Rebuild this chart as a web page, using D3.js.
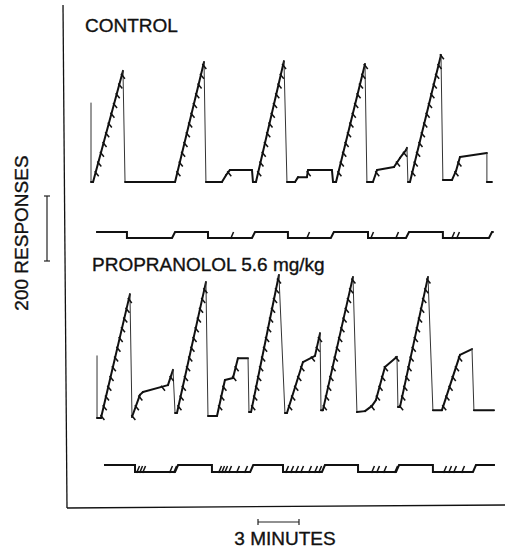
<!DOCTYPE html>
<html>
<head>
<meta charset="utf-8">
<script src="https://cdn.jsdelivr.net/npm/d3@7"></script>
<style>
  body { margin: 0; background: #fff; }
  svg text { font-family: "Liberation Sans", Arial, sans-serif; fill: #111; stroke: #111; stroke-width: 0.35; }
</style>
</head>
<body>
<svg id="chart" width="505" height="558"></svg>
<script>
(function () {
  'use strict';

  // cumulative records, [minutes, responses since last pen reset]
  var controlRecord = [
    [1.83, 243], [1.83, 0], [1.98, 0], [4.17, 342], [4.32, 0], [7.98, 0],
    [10.10, 369], [10.24, 0], [11.41, 0], [11.71, 21], [12.0, 37], [13.61, 37],
    [13.68, 0], [13.90, 0], [15.95, 372], [16.17, 0], [16.76, 0], [16.98, 15],
    [17.63, 15], [17.71, 37], [19.46, 37], [19.54, 0], [19.76, 0], [21.88, 363],
    [22.02, 0], [22.46, 0], [22.76, 37], [24.0, 46], [24.44, 74], [24.88, 98],
    [24.95, 105], [25.02, 0], [25.17, 0], [27.44, 391], [27.58, 6], [28.24, 6],
    [28.54, 34], [28.83, 77], [30.80, 89], [30.80, 0], [31.17, 0]
  ];
  var propranololRecord = [
    [2.27, 185], [2.27, -6], [2.56, -6], [4.68, 375], [4.83, -3], [5.41, 65],
    [5.63, 74], [7.46, 95], [7.83, 142], [7.98, 9], [8.12, 9], [10.24, 412],
    [10.39, 0], [11.05, 0], [11.63, 111], [12.22, 117], [12.58, 178], [13.32, 178],
    [13.39, 12], [13.54, 12], [15.58, 434], [16.02, 9], [16.17, 9], [17.34, 166],
    [18.22, 185], [18.59, 255], [18.66, 18], [18.80, 18], [21.0, 428], [21.29, 12],
    [21.88, 15], [22.39, 31], [22.68, 49], [23.34, 151], [24.22, 182], [24.29, 28],
    [24.44, 28], [26.49, 428], [26.85, 18], [27.51, 18], [28.83, 188], [29.71, 206],
    [29.85, 18], [31.32, 18]
  ];

  // event pen: periods the pen is up, [start, end] in minutes
  var controlEventUp = [[2.2, 4.46], [7.98, 10.39], [13.83, 16.24], [19.6, 22.1], [25.1, 27.58], [31.17, 31.3]];
  var propranololEventUp = [[2.78, 5.05], [8.2, 10.68], [13.7, 15.88], [18.95, 21.37], [24.37, 26.85], [30.0, 31.39]];
  var controlBlips = [12.15, 17.71, 22.39, 24.22, 28.32, 28.68];
  var propranololBlips = [
    5.27, 5.49, 5.71, 7.68, 7.98, 11.27, 11.49, 11.71, 12.0, 12.58, 13.17,
    16.17, 16.54, 16.9, 17.27, 17.85, 18.29, 18.59, 22.46, 22.83, 23.34, 24.15,
    27.73, 28.1, 28.46, 29.05
  ];

  var panelLabels = ['CONTROL', 'PROPRANOLOL 5.6 mg/kg'];
  var yTitle = '200 RESPONSES';
  var xTitle = '3 MINUTES';
  var responseBar = 200;   // responses
  var timeBar = 3;         // minutes
  var pipEvery = 30;       // responses per reinforcement

  var svg = d3.select('#chart');

  var x = d3.scaleLinear().domain([0, 32]).range([66, 503.3]);

  var panels = [
    {
      label: panelLabels[0], labelX: 85, labelY: 32,
      record: controlRecord,
      y: d3.scaleLinear().domain([0, 400]).range([182, 52]),
      eventUp: controlEventUp, blips: controlBlips,
      eventHi: 232, eventLo: 238
    },
    {
      label: panelLabels[1], labelX: 92, labelY: 271,
      record: propranololRecord,
      y: d3.scaleLinear().domain([0, 400]).range([416, 286]),
      eventUp: propranololEventUp, blips: propranololBlips,
      eventHi: 465, eventLo: 472
    }
  ];

  // frame
  svg.append('line')
      .attr('x1', 63).attr('y1', 5).attr('x2', 67).attr('y2', 508)
      .attr('stroke', '#111').attr('stroke-width', 1.3);
  svg.append('line')
      .attr('x1', 67).attr('y1', 508).attr('x2', 505).attr('y2', 505)
      .attr('stroke', '#111').attr('stroke-width', 1.3);

  panels.forEach(drawPanel);

  function drawPanel(p) {
    var g = svg.append('g');

    g.append('text')
        .attr('x', p.labelX)
        .attr('y', p.labelY)
        .attr('font-size', 19)
        .text(p.label);

    var segs = d3.pairs(p.record).map(function (pair) {
      return {a: pair[0], b: pair[1], reset: pair[1][1] - pair[0][1] < -40};
    });

    g.append('g').selectAll('line')
      .data(segs)
      .enter().append('line')
        .attr('x1', function (d) { return x(d.a[0]); })
        .attr('y1', function (d) { return p.y(d.a[1]); })
        .attr('x2', function (d) { return x(d.b[0]); })
        .attr('y2', function (d) { return p.y(d.b[1]); })
        .attr('stroke', function (d) { return d.reset ? '#333' : '#111'; })
        .attr('stroke-width', function (d) { return d.reset ? 1 : 2; })
        .attr('stroke-linecap', 'round');

    // reinforcement pips along rising parts
    var pips = [];
    segs.forEach(function (s) {
      if (s.b[1] <= s.a[1]) return;
      var k0 = Math.floor(s.a[1] / pipEvery) + 1;
      var k1 = Math.floor(s.b[1] / pipEvery);
      for (var k = k0; k <= k1; k++) {
        var t = (k * pipEvery - s.a[1]) / (s.b[1] - s.a[1]);
        pips.push([s.a[0] + t * (s.b[0] - s.a[0]), k * pipEvery]);
      }
    });

    g.append('g').selectAll('path')
      .data(pips)
      .enter().append('path')
        .attr('d', function (d) {
          return 'M' + (x(d[0]) - 1) + ',' + (p.y(d[1]) - 1) + 'l4,5';
        })
        .attr('fill', 'none')
        .attr('stroke', '#111')
        .attr('stroke-width', 1.5);

    // event pen
    var path = d3.path();
    p.eventUp.forEach(function (u, i) {
      if (i === 0) {
        path.moveTo(x(u[0]), p.eventHi);
      } else {
        path.lineTo(x(u[0]) - 3, p.eventLo);
        path.lineTo(x(u[0]), p.eventHi);
      }
      path.lineTo(x(u[1]), p.eventHi);
      if (i < p.eventUp.length - 1) path.lineTo(x(u[1]), p.eventLo);
    });
    g.append('path')
        .attr('d', path.toString())
        .attr('fill', 'none')
        .attr('stroke', '#111')
        .attr('stroke-width', 2);

    g.append('g').selectAll('line')
      .data(p.blips)
      .enter().append('line')
        .attr('x1', function (d) { return x(d) - 1.5; })
        .attr('y1', p.eventLo + 1)
        .attr('x2', function (d) { return x(d) + 1.5; })
        .attr('y2', p.eventLo - 6)
        .attr('stroke', '#111')
        .attr('stroke-width', 1.5);
  }

  // response scale bar
  var barLen = panels[0].y(0) - panels[0].y(responseBar);
  var scaleG = svg.append('g').attr('stroke', '#222').attr('stroke-width', 1.2);
  scaleG.append('line').attr('x1', 47).attr('y1', 196).attr('x2', 47).attr('y2', 196 + barLen);
  scaleG.append('line').attr('x1', 44).attr('y1', 196).attr('x2', 50).attr('y2', 196);
  scaleG.append('line').attr('x1', 44).attr('y1', 196 + barLen).attr('x2', 50).attr('y2', 196 + barLen);

  // time scale bar
  var t0 = x(14.05), t1 = x(14.05 + timeBar);
  scaleG.append('line').attr('x1', t0).attr('y1', 522).attr('x2', t1).attr('y2', 522);
  scaleG.append('line').attr('x1', t0).attr('y1', 519).attr('x2', t0).attr('y2', 525);
  scaleG.append('line').attr('x1', t1).attr('y1', 519).attr('x2', t1).attr('y2', 525);

  svg.append('text')
      .attr('transform', 'translate(28,233) rotate(-90)')
      .attr('text-anchor', 'middle')
      .attr('font-size', 19)
      .text(yTitle);

  svg.append('text')
      .attr('x', 285)
      .attr('y', 545)
      .attr('text-anchor', 'middle')
      .attr('font-size', 19)
      .text(xTitle);
})();
</script>
</body>
</html>
